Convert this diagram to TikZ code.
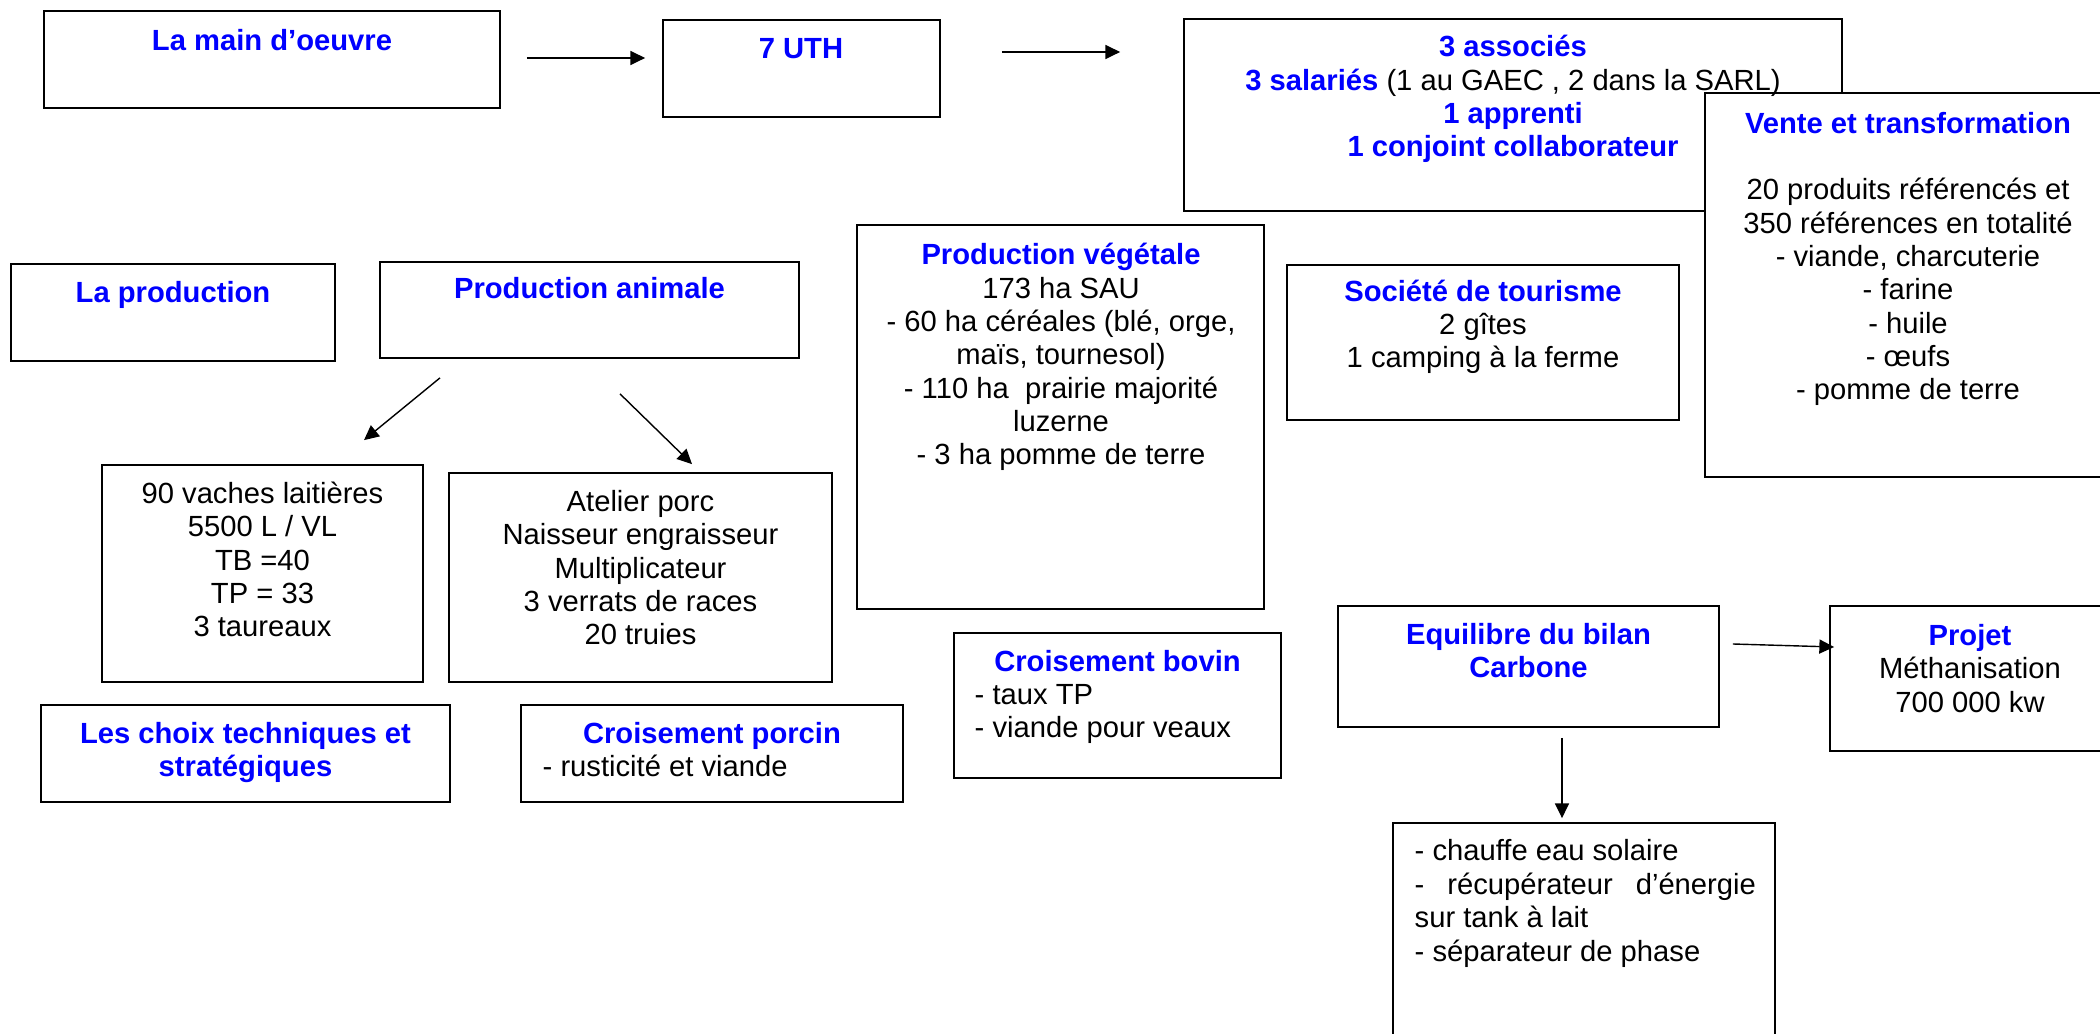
\documentclass[tikz,border=0pt]{standalone}
\usepackage{fontspec}
\setmainfont{Liberation Sans}
\usetikzlibrary{fit}
\usetikzlibrary{calc}
\usetikzlibrary{arrows.meta}

\definecolor{titreblue}{RGB}{0,0,255}
\newcommand{\titre}[1]{{\bfseries\color{titreblue}#1}}

% text nodes sit on the baseline of their last line
\tikzset{
  box/.style={draw, fill=white, inner sep=0pt, line width=0.5pt},
  txt/.style={align=center, inner sep=0pt, anchor=base, font=\fontsize{8.3}{9.48}\selectfont},
  txtl/.style={txt, align=left, anchor=base west},
  arr/.style={->, >={Triangle[length=4.2pt,width=4pt]}, line width=0.4pt}
}

\begin{document}
\begin{tikzpicture}[x=0.01cm, y=-0.01cm]
  \clip (0,0) rectangle (2100,1034);

  \node[box, fit={(44,11) (500,108)}] (main) {};
  \node[box, fit={(663,20) (940,117)}] (uth) {};
  \node[box, fit={(1184,19) (1842,211)}] (assoc) {};
  \node[box, fit={(1705,93) (2115,477)}] (vente) {};
  \node[box, fit={(11,264) (335,361)}] (prod) {};
  \node[box, fit={(380,262) (799,358)}] (anim) {};
  \node[box, fit={(857,225) (1264,609)}] (veg) {};
  \node[box, fit={(1287,265) (1679,420)}] (tour) {};
  \node[box, fit={(102,465) (423,682)}] (vaches) {};
  \node[box, fit={(449,473) (832,682)}] (porc) {};
  \node[box, fit={(41,705) (450,802)}] (choix) {};
  \node[box, fit={(521,705) (903,802)}] (crporc) {};
  \node[box, fit={(954,633) (1281,778)}] (crbov) {};
  \node[box, fit={(1338,606) (1719,727)}] (carbone) {};
  \node[box, fit={(1830,606) (2115,751)}] (projet) {};
  \node[box, fit={(1393,823) (1775,1045)}] (energie) {};

  \draw[arr] ($(main.east)+(26,-1.5)$) -- ($(uth.west)+(-17,-10.5)$);
  \draw[arr] ($(uth.east)+(61,-16.5)$) -- ($(assoc.west)+(-63,-63)$);
  \draw[arr] ($(anim.south)+(-149.5,19)$) -- ($(vaches.north)+(101.5,-24)$);
  \draw[arr] ($(anim.south)+(30.5,35)$) -- ($(porc.north)+(51.5,-8)$);
  \draw[arr] ($(carbone.east)+(13,-22.5)$) -- ($(projet.west)+(5,-31.5)$);
  \draw[arr] ($(carbone.south)+(33.5,10)$) -- ($(energie.north)+(-22,-4)$);

  \node[txt] at (272,51) {\titre{La main d’oeuvre}};
  \node[txt] at (801,59) {\titre{7 UTH}};
  \node[txt] at (1513,157) {\titre{3 associés}\\ \titre{3 salariés} (1 au GAEC , 2 dans la SARL)\\
    \titre{1 apprenti}\\ \titre{1 conjoint collaborateur}};
  \node[txt] at (1908,400) {\titre{Vente et transformation}\\ ~\\ 20 produits référencés et\\
    350 références en totalité\\ - viande, charcuterie\\ - farine\\ - huile\\ - œufs\\ - pomme de terre};
  \node[txt] at (173,303) {\titre{La production}};
  \node[txt] at (589.5,299) {\titre{Production animale}};
  \node[txt] at (1061,465) {\titre{Production végétale}\\ 173 ha SAU\\ - 60 ha céréales (blé, orge,\\
    maïs, tournesol)\\ - 110 ha\ \ prairie majorité\\ luzerne\\ - 3 ha pomme de terre};
  \node[txt] at (1483,368) {\titre{Société de tourisme}\\ 2 gîtes\\ 1 camping à la ferme};
  \node[txt] at (262.5,637) {90 vaches laitières\\ 5500 L / VL\\ TB =40\\ TP = 33\\ 3 taureaux};
  \node[txt] at (640.5,645) {Atelier porc\\ Naisseur engraisseur\\ Multiplicateur\\ 3 verrats de races\\ 20 truies};
  \node[txt] at (245.5,777) {\titre{Les choix techniques et}\\ \titre{stratégiques}};
  \node[txt] at (712,743) {\titre{Croisement porcin}};
  \node[txtl] at (542,777) {- rusticité et viande};
  \node[txt] at (1117.5,672) {\titre{Croisement bovin}};
  \node[txtl] at (974,738) {- taux TP\\ - viande pour veaux};
  \node[txt] at (1528.5,678) {\titre{Equilibre du bilan}\\ \titre{Carbone}};
  \node[txt] at (1970,712) {\titre{Projet}\\ Méthanisation\\ 700 000 kw};
  \node[txtl] at (1414,961) {- chauffe eau solaire\\ \hbox to 3.41cm{-\hfill récupérateur\hfill d’énergie}\\
    sur tank à lait\\ - séparateur de phase};
\end{tikzpicture}
\end{document}
